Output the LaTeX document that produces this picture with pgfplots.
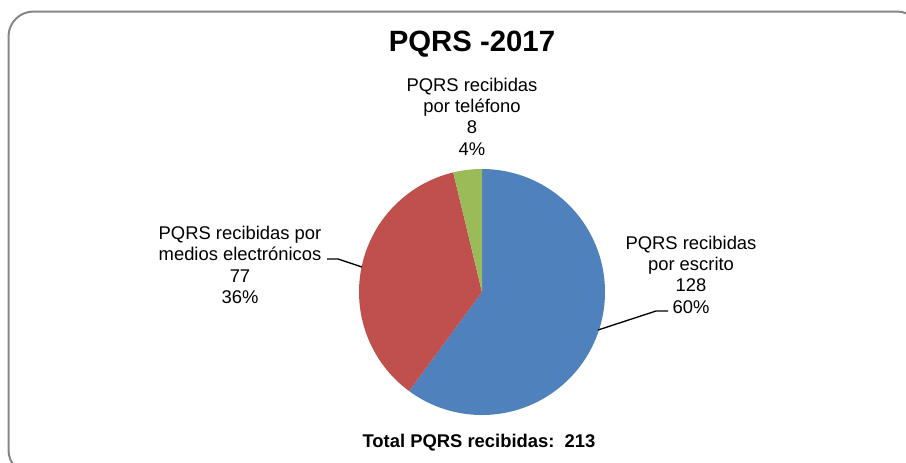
\documentclass[border=0pt]{standalone}
\usepackage{pgfplots}
\pgfplotsset{compat=1.18}
\usepackage{fontspec}
\setmainfont{Liberation Sans}
\definecolor{pieblue}{HTML}{4F81BD}
\definecolor{piered}{HTML}{C0504D}
\definecolor{piegreen}{HTML}{9BBB59}
\definecolor{framegray}{HTML}{868686}
% values
\def\vEscrito{128}
\def\vElectronicos{77}
\def\vTelefono{8}
\tikzset{lbl/.style={font=\fontsize{13.8}{16}\selectfont, align=center, inner sep=0pt}}
\begin{document}
\begin{tikzpicture}
\useasboundingbox (0,0) rectangle (679.5pt,346.5pt);
\clip (0,0) rectangle (679.5pt,346.5pt);
\pgfmathsetmacro\total{\vEscrito+\vElectronicos+\vTelefono}
\pgfmathsetmacro\aA{\vEscrito/\total*360}
\pgfmathsetmacro\aB{(\vEscrito+\vElectronicos)/\total*360}
\begin{axis}[
  at={(0,0)}, anchor=south west,
  x=0.75pt, y=0.75pt, scale only axis,
  xmin=0, xmax=906, ymin=0, ymax=462, y dir=reverse,
  hide axis, clip=false,
]
% frame
\addplot[draw=framegray, line width=1.5pt, rounded corners=18.75pt, forget plot]
  coordinates {(8.5,475) (8.5,11.5) (922,11.5) (922,475)} -- cycle;
% pie
\addplot[fill=pieblue, draw=none, domain=0:\aA, samples=120, variable=\t]
  ({482+123*sin(\t)},{292-123*cos(\t)}) -- (482,292) -- cycle;
\addplot[fill=piered, draw=none, domain=\aA:\aB, samples=80, variable=\t]
  ({482+123*sin(\t)},{292-123*cos(\t)}) -- (482,292) -- cycle;
\addplot[fill=piegreen, draw=none, domain=\aB:360, samples=20, variable=\t]
  ({482+123*sin(\t)},{292-123*cos(\t)}) -- (482,292) -- cycle;
% leader lines
\addplot[black, line width=1pt] coordinates {(327,259) (338,259) (362,267)};
\addplot[black, line width=1pt] coordinates {(598,330) (656,311) (668,311)};
% texts
\node[inner sep=0pt, font=\fontsize{22}{26}\selectfont\bfseries] at (472,44) {PQRS -2017};
\node[lbl] at (472,116.5) {PQRS recibidas\\por teléfono\\8\\4\%};
\node[lbl] at (240,265) {PQRS recibidas por\\medios electrónicos\\77\\36\%};
\node[lbl] at (691,274.5) {PQRS recibidas\\por escrito\\128\\60\%};
\node[inner sep=0pt, font=\fontsize{13.8}{16}\selectfont\bfseries] at (479,443) {Total PQRS recibidas:\ \ 213};
\end{axis}
\end{tikzpicture}
\end{document}
